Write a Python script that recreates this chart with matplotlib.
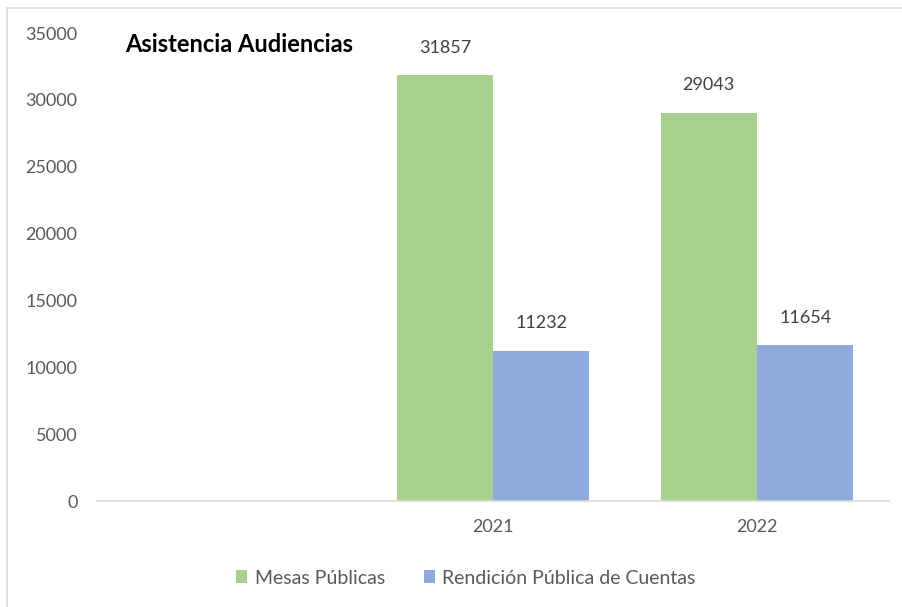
"""
Asistencia Audiencias - grouped bar chart (Excel style).
"""

import matplotlib

matplotlib.use("Agg")
import matplotlib.pyplot as plt
import numpy as np
from matplotlib.patches import Rectangle

plt.rcParams["font.family"] = ["Lato", "DejaVu Sans"]

# Data
categories = ["", "2021", "2022"]
mesas_publicas = [np.nan, 31857, 29043]
rendicion_cuentas = [np.nan, 11232, 11654]
series_names = ["Mesas Públicas", "Rendición Pública de Cuentas"]
y_ticks = [0, 5000, 10000, 15000, 20000, 25000, 30000, 35000]

GREEN = "#A9D18E"
BLUE = "#8FAADC"
TEXT = "#595959"

fig = plt.figure(figsize=(9.02, 6.07), dpi=100)
ax = fig.add_axes([97 / 902, 1 - 501 / 607, (889 - 97) / 902, (501 - 33) / 607])

x = np.arange(len(categories))
width = 0.365
b1 = ax.bar(x - width / 2, mesas_publicas, width, color=GREEN, label=series_names[0])
b2 = ax.bar(x + width / 2, rendicion_cuentas, width, color=BLUE, label=series_names[1])

# Value labels above bars
for bars, vals in [(b1, mesas_publicas), (b2, rendicion_cuentas)]:
    labels = ["" if np.isnan(v) else f"{v:.0f}" for v in vals]
    ax.bar_label(bars, labels=labels, padding=14, fontsize=13, color="#404040")

ax.set_xlim(-0.5, 2.5)
ax.set_ylim(0, 35000)
ax.set_yticks(y_ticks)
ax.set_yticklabels([str(t) for t in y_ticks])
ax.set_xticks(x)
ax.set_xticklabels(categories)
ax.tick_params(axis="y", length=0, pad=14, labelsize=13, labelcolor=TEXT)
ax.tick_params(axis="x", length=0, pad=13, labelsize=13, labelcolor=TEXT)

for side in ["top", "right", "left"]:
    ax.spines[side].set_visible(False)
ax.spines["bottom"].set_color("#D9D9D9")
ax.spines["bottom"].set_linewidth(1.2)

# Title inside the chart area
fig.text(125 / 902, 1 - 44 / 607, "Asistencia Audiencias", fontsize=17, fontweight="bold",
         color="black", ha="left", va="center")

# Legend at bottom
fig.legend(loc="center", bbox_to_anchor=(466 / 902, 1 - 578 / 607), ncol=2, frameon=False,
           fontsize=14, labelcolor=TEXT, handlelength=0.55, handleheight=0.6,
           handletextpad=0.4, columnspacing=2.0)

# Light chart border (right/bottom edges run off the image)
fig.patches.append(Rectangle((7 / 902, -0.1), 1.2, 1 - 8 / 607 + 0.1, transform=fig.transFigure,
                             fill=False, edgecolor="#D9D9D9", linewidth=1.2))

fig.savefig("out.png", dpi=100)
